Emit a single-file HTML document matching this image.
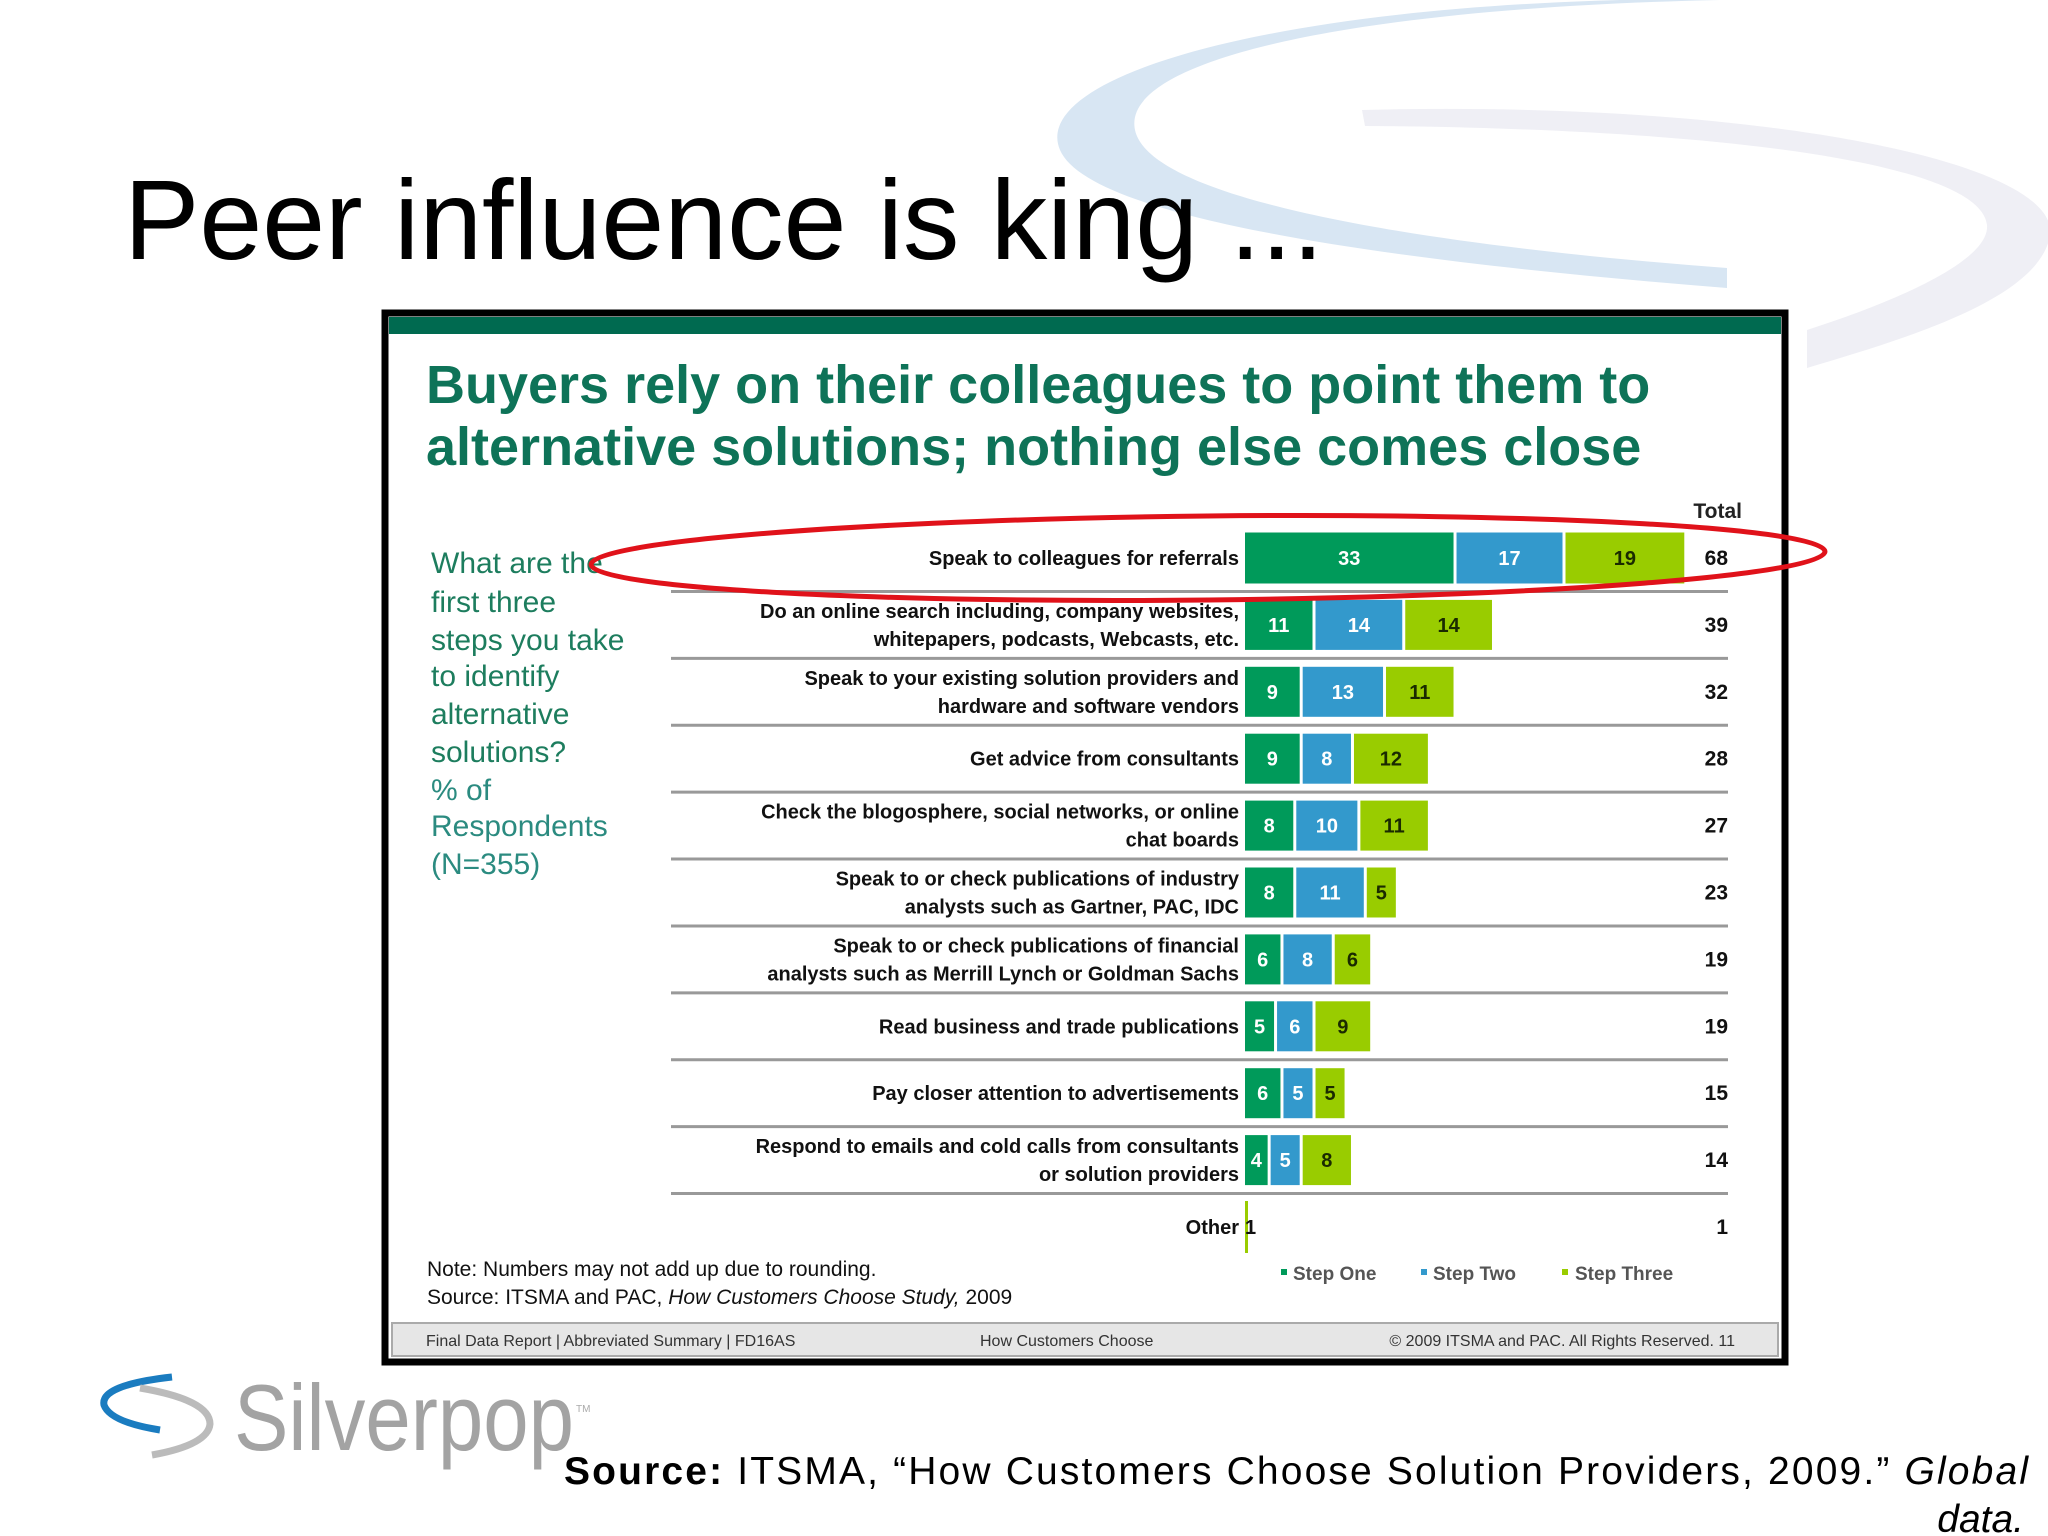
<!DOCTYPE html>
<html><head><meta charset="utf-8"><style>
html,body{margin:0;padding:0;background:#fff;}
#wrap{position:relative;width:2048px;height:1536px;overflow:hidden;background:#fff;font-family:"Liberation Sans",sans-serif;}
svg{position:absolute;left:0;top:0;}
</style></head><body>
<div id="wrap">
<svg id="s" width="2048" height="1536" viewBox="0 0 2048 1536">
  <g>
    <path d="M1620 0 C1250 10 1030 80 1060 150 C1090 220 1400 262 1727 288 L1727 268 C1420 245 1150 200 1135 130 C1120 60 1350 8 1720 0 Z" fill="#d8e6f3"/>
    <path d="M1362 110 C1750 100 2060 160 2050 235 C2040 300 1900 340 1807 368 L1807 330 C1900 300 1990 260 1987 225 C1980 160 1700 128 1365 126 Z" fill="#efeff5"/>
  </g>
  <text x="124" y="259" font-size="113" fill="#000">Peer influence is king ...</text>

  <rect x="385" y="313" width="1400" height="1049" fill="#fff" stroke="#000" stroke-width="7"/>
  <rect x="389" y="317" width="1392" height="17" fill="#006a50"/>
  <g font-weight="bold" font-size="54" fill="#0e7358">
    <text x="426" y="403">Buyers rely on their colleagues to point them to</text>
    <text x="426" y="465">alternative solutions; nothing else comes close</text>
  </g>
  <g font-size="30" fill="#1d7d5e">
    <text x="431" y="573">What are the</text>
    <text x="431" y="612">first three</text>
    <text x="431" y="650">steps you take</text>
    <text x="431" y="686">to identify</text>
    <text x="431" y="724">alternative</text>
    <text x="431" y="762">solutions?</text>
    <text x="431" y="800" fill="#2b8b80">% of</text>
    <text x="431" y="836" fill="#2b8b80">Respondents</text>
    <text x="431" y="874" fill="#2b8b80">(N=355)</text>
  </g>
  <text x="1742" y="518" font-size="21" font-weight="bold" fill="#222" text-anchor="end">Total</text>
  <g id="chart"></g>

  <g font-size="21" fill="#111">
    <text x="427" y="1276">Note: Numbers may not add up due to rounding.</text>
    <text x="427" y="1304">Source: ITSMA and PAC, <tspan font-style="italic">How Customers Choose Study,</tspan> 2009</text>
  </g>
  <g font-size="19" font-weight="bold" fill="#555">
    <rect x="1281" y="1269" width="6" height="6" fill="#009a5a"/><text x="1293" y="1280">Step One</text>
    <rect x="1421" y="1269" width="6" height="6" fill="#3399cc"/><text x="1433" y="1280">Step Two</text>
    <rect x="1562" y="1269" width="6" height="6" fill="#99cc00"/><text x="1575" y="1280">Step Three</text>
  </g>
  <rect x="392" y="1323" width="1386" height="33" fill="#e6e6e6" stroke="#aaa" stroke-width="2"/>
  <g font-size="16" fill="#333">
    <text x="426" y="1346">Final Data Report | Abbreviated Summary | FD16AS</text>
    <text x="980" y="1346">How Customers Choose</text>
    <text x="1735" y="1346" text-anchor="end">© 2009 ITSMA and PAC. All Rights Reserved. 11</text>
  </g>
  <ellipse cx="1208" cy="558" rx="617" ry="42" fill="none" stroke="#e0121a" stroke-width="5" transform="rotate(-0.6 1208 558)"/>

  <g>
    <path d="M172 1377 Q100 1385 104 1405 Q110 1422 160 1430" fill="none" stroke="#1a7cc0" stroke-width="7"/>
    <path d="M140 1388 Q210 1400 210 1424 Q208 1445 152 1455" fill="none" stroke="#bbb" stroke-width="7"/>
    <text x="234" y="1450" font-size="94" fill="#a3a3a3" textLength="340" lengthAdjust="spacingAndGlyphs">Silverpop</text>
    <text x="576" y="1412" font-size="10" fill="#aaa">TM</text>
  </g>
  <g font-size="39" fill="#000">
    <text x="564" y="1484" textLength="1464" lengthAdjust="spacing"><tspan font-weight="bold">Source:</tspan>  ITSMA, “How Customers Choose Solution Providers, 2009.”  <tspan font-style="italic">Global</tspan></text>
    <text x="2024" y="1532" text-anchor="end" font-style="italic">data.</text>
  </g>
</svg>
</div>
<script>
const categories = ["Speak to colleagues for referrals","Do an online search including, company websites,|whitepapers, podcasts, Webcasts, etc.","Speak to your existing solution providers and|hardware and software vendors","Get advice from consultants","Check the blogosphere, social networks, or online|chat boards","Speak to or check publications of industry|analysts such as Gartner, PAC, IDC","Speak to or check publications of financial|analysts such as Merrill Lynch or Goldman Sachs","Read business and trade publications","Pay closer attention to advertisements","Respond to emails and cold calls from consultants|or solution providers","Other"];
const stepOne = [33,11,9,9,8,8,6,5,6,4,0];
const stepTwo = [17,14,13,8,10,11,8,6,5,5,0];
const stepThree = [19,14,11,12,11,5,6,9,5,8,1];
const totals = [68,39,32,28,27,23,19,19,15,14,1];

const NS = "http://www.w3.org/2000/svg";
const g = document.getElementById('chart');
const x0 = 1245, unit = 6.41, rowY0 = 558, rowH = 66.9, barH = 50;
const xScale = v => v * unit;
const yCenter = i => rowY0 + i * rowH;
const colors = ["#009a5a","#3399cc","#99cc00"];
const textCols = ["#fff","#fff","#1a2a00"];
function mk(tag, attrs){const e=document.createElementNS(NS,tag);for(const k in attrs)e.setAttribute(k,attrs[k]);g.appendChild(e);return e;}
categories.forEach((c,i)=>{
  const cy = yCenter(i);
  const lines = c.split('|');
  lines.forEach((ln,j)=>{
    const t = mk('text',{x:1239,y:cy+7+(j-(lines.length-1)/2)*28,'font-size':20,'font-weight':'bold',fill:'#111','text-anchor':'end'});
    t.textContent = ln;
    
    
  });
  let x = x0;
  const vals = [stepOne[i],stepTwo[i],stepThree[i]];
  const h = i===0 ? 51 : barH;
  if (i === categories.length-1) {
    const r = mk('rect',{x:x0,y:cy-26,width:3,height:52,fill:colors[2]});
    
    
    const t = mk('text',{x:x0,y:cy+7,'font-size':20,'font-weight':'bold',fill:'#111'});
    t.textContent = vals[2];
  } else {
    vals.forEach((v,k)=>{
      const w = xScale(v);
      const r = mk('rect',{x:x,y:cy-h/2,width:Math.max(w-3,1),height:h,fill:colors[k]});
      
      
      const t = mk('text',{x:x+(w-3)/2,y:cy+7,'font-size':20,'font-weight':'bold',fill:textCols[k],'text-anchor':'middle'});
      t.textContent = v;
      
      
      x += w;
    });
  }
  const tt = mk('text',{x:1728,y:cy+7,'font-size':21,'font-weight':'bold',fill:'#111','text-anchor':'end'});
  tt.textContent = totals[i];
  
  
  if (i < categories.length-1) {
    const l = mk('line',{x1:671,x2:1728,y1:cy+rowH/2,y2:cy+rowH/2,stroke:'#999','stroke-width':3});
    
    
  }
});
</script>
</body></html>
